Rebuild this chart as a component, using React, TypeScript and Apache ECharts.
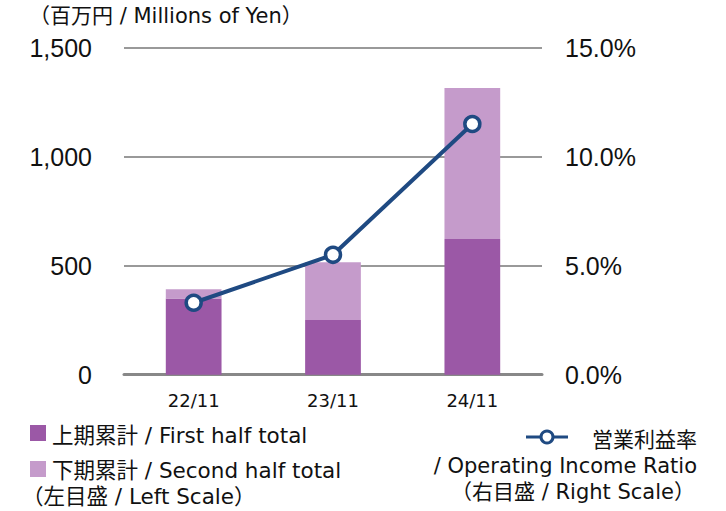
import React, { useEffect, useRef } from "react";
import * as echarts from "echarts";

const categories = ["22/11", "23/11", "24/11"];
const firstHalf = [349, 251, 622];
const secondHalf = [43, 265, 693];
const operatingRatio = [3.3, 5.5, 11.5];
const leftTicks = { min: 0, max: 1500, interval: 500 };
const rightTicks = { min: 0, max: 15, interval: 5 };

const DARK = "#9b58a6";
const LIGHT = "#c59bcb";
const NAVY = "#1f4a82";
const TXT = 'DejaVu Sans, "Noto Sans CJK JP", sans-serif';
const NUM = '"Liberation Sans", Arial, sans-serif';

export default function App() {
  const ref = useRef<HTMLDivElement>(null);
  useEffect(() => {
    if (!ref.current) return;
    const chart = echarts.init(ref.current, undefined, { renderer: "svg" });
    chart.setOption({
      animation: false,
      backgroundColor: "#ffffff",
      grid: { left: 124, right: 184, top: 47.7, bottom: 136.3, containLabel: false },
      xAxis: {
        type: "category",
        data: categories,
        axisLine: { show: true, lineStyle: { color: "#888888", width: 3 } },
        axisTick: { show: false },
        axisLabel: { fontFamily: TXT, fontSize: 18, color: "#111", margin: 17 },
      },
      yAxis: [
        {
          type: "value",
          min: leftTicks.min,
          max: leftTicks.max,
          interval: leftTicks.interval,
          axisLine: { show: false },
          axisTick: { show: false },
          splitLine: { lineStyle: { color: "#999999", width: 2 } },
          axisLabel: {
            fontFamily: NUM,
            fontSize: 25,
            color: "#111",
            margin: 32,
            formatter: (v: number) => v.toLocaleString("en-US"),
          },
        },
        {
          type: "value",
          min: rightTicks.min,
          max: rightTicks.max,
          interval: rightTicks.interval,
          axisLine: { show: false },
          axisTick: { show: false },
          splitLine: { show: false },
          axisLabel: {
            fontFamily: NUM,
            fontSize: 25,
            color: "#111",
            margin: 23,
            formatter: (v: number) => v.toFixed(1) + "%",
          },
        },
      ],
      series: [
        {
          name: "上期累計 / First half total",
          type: "bar",
          stack: "total",
          data: firstHalf,
          barWidth: "40%",
          itemStyle: { color: DARK },
        },
        {
          name: "下期累計 / Second half total",
          type: "bar",
          stack: "total",
          data: secondHalf,
          barWidth: "40%",
          itemStyle: { color: LIGHT },
        },
        {
          name: "営業利益率",
          type: "line",
          yAxisIndex: 1,
          data: operatingRatio,
          symbol: "circle",
          symbolSize: 15,
          lineStyle: { color: NAVY, width: 4 },
          itemStyle: { color: "#ffffff", borderColor: NAVY, borderWidth: 3.5 },
          z: 5,
        },
      ],
      graphic: [
        {
          type: "text",
          left: 29,
          top: 5,
          style: { text: "（百万円 / Millions of Yen）", font: `21px ${TXT}`, fill: "#111" },
        },
        { type: "rect", shape: { x: 30, y: 425, width: 16, height: 16 }, style: { fill: DARK } },
        {
          type: "text",
          x: 52,
          y: 435,
          style: { text: "上期累計 / First half total", font: `21.5px ${TXT}`, fill: "#111", verticalAlign: "middle" },
        },
        { type: "rect", shape: { x: 30, y: 461, width: 16, height: 16 }, style: { fill: LIGHT } },
        {
          type: "text",
          x: 52,
          y: 470,
          style: { text: "下期累計 / Second half total", font: `21.5px ${TXT}`, fill: "#111", verticalAlign: "middle" },
        },
        {
          type: "text",
          x: 22,
          y: 496,
          style: { text: "（左目盛 / Left Scale）", font: `21.5px ${TXT}`, fill: "#111", verticalAlign: "middle" },
        },
        { type: "line", shape: { x1: 526, y1: 437, x2: 568, y2: 437 }, style: { stroke: NAVY, lineWidth: 3 } },
        { type: "circle", shape: { cx: 547, cy: 437, r: 6 }, style: { fill: "#ffffff", stroke: NAVY, lineWidth: 3 } },
        {
          type: "text",
          x: 697,
          y: 440,
          style: { text: "営業利益率", font: `21px ${TXT}`, fill: "#111", align: "right", verticalAlign: "middle" },
        },
        {
          type: "text",
          x: 697,
          y: 466,
          style: { text: "/ Operating Income Ratio", font: `21px ${TXT}`, fill: "#111", align: "right", verticalAlign: "middle" },
        },
        {
          type: "text",
          x: 695,
          y: 492,
          style: { text: "（右目盛 / Right Scale）", font: `21px ${TXT}`, fill: "#111", align: "right", verticalAlign: "middle" },
        },
      ],
    });
    return () => chart.dispose();
  }, []);
  return <div ref={ref} style={{ position: "fixed", left: 0, top: 0, width: 726, height: 511 }} />;
}
